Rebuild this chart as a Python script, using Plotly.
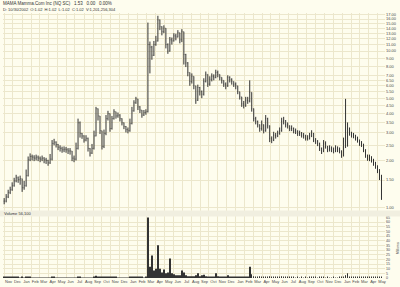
import plotly.graph_objects as go
import pandas as pd
import math

# Weekly closes (Nov 2002 .. May 2006)
closes = [1.10, 1.17, 1.25, 1.30, 1.38, 1.48, 1.55, 1.51, 1.53, 1.34,
          1.38, 1.60, 2.02, 2.12, 2.10, 2.07, 2.10, 2.07, 2.04, 2.07,
          2.02, 2.00, 1.93, 2.04, 2.57, 2.62, 2.53, 2.43, 2.39, 2.34,
          2.36, 2.34, 2.30, 2.30, 2.07, 2.04, 2.39, 3.48, 2.98, 2.87,
          2.70, 2.77, 2.39, 2.23, 2.39, 2.87, 4.28, 3.85, 3.10, 2.46,
          2.98, 3.70, 3.98, 3.20, 3.70, 4.10, 3.85, 3.90, 3.70, 3.48,
          3.30, 3.15, 3.10, 3.44, 4.15, 4.67, 4.95, 4.40, 4.20, 3.90,
          4.05, 4.10, 11.0, 10.6, 9.4, 11.0, 11.6, 15.8, 14.3, 13.3,
          14.0, 11.0, 10.0, 11.8, 11.6, 12.5, 12.3, 13.1, 11.8, 13.3,
          9.5, 8.4, 7.3, 6.4, 6.9, 6.0, 4.85, 5.85, 5.5, 5.3,
          6.4, 7.1, 6.15, 6.6, 6.9, 6.8, 7.3, 7.1, 6.8, 6.5,
          6.15, 6.0, 6.8, 6.6, 6.4, 6.15, 6.0, 5.5, 5.1, 4.6,
          4.5, 4.85, 4.8, 5.45, 4.28, 3.70, 3.55, 3.38, 3.20, 3.38,
          3.10, 3.70, 3.33, 2.77, 2.70, 2.90, 2.87, 2.98, 3.10, 3.55,
          3.60, 3.38, 3.33, 3.20, 3.20, 3.10, 3.06, 2.98, 2.98, 2.90,
          2.87, 2.77, 2.77, 2.87, 2.98, 2.70, 2.65, 2.57, 2.39, 2.30,
          2.57, 2.46, 2.34, 2.39, 2.34, 2.30, 2.39, 2.34, 2.30, 2.16,
          2.65, 2.50, 3.20, 2.98, 2.90, 2.87, 2.77, 2.70, 2.57, 2.53,
          2.34, 2.16, 2.07, 2.07, 2.02, 1.93, 1.85, 1.75, 1.60, 1.30]

highs = [1.15, 1.22, 1.30, 1.36, 1.45, 1.55, 1.62, 1.58, 1.60, 1.45,
         1.48, 1.75, 2.12, 2.22, 2.18, 2.16, 2.18, 2.15, 2.12, 2.15,
         2.10, 2.08, 2.02, 2.20, 2.70, 2.75, 2.65, 2.55, 2.50, 2.45,
         2.46, 2.44, 2.40, 2.40, 2.20, 2.15, 2.60, 3.70, 3.55, 3.00,
         2.90, 2.90, 2.80, 2.40, 2.55, 3.10, 4.40, 4.30, 3.85, 3.10,
         3.15, 3.90, 4.15, 4.00, 3.85, 4.25, 4.10, 4.05, 3.95, 3.72,
         3.50, 3.32, 3.25, 3.70, 4.40, 4.85, 5.10, 4.95, 4.45, 4.20,
         4.20, 4.25, 15.2, 11.5, 10.8, 11.6, 12.5, 16.8, 15.9, 14.4,
         14.6, 14.0, 11.2, 12.3, 12.2, 13.0, 12.9, 13.6, 13.1, 13.8,
         13.3, 9.6, 8.5, 7.3, 7.2, 6.9, 6.0, 6.1, 5.9, 5.6,
         6.7, 7.4, 7.1, 6.9, 7.2, 7.1, 7.6, 7.5, 7.1, 6.8,
         6.5, 6.3, 7.0, 6.9, 6.7, 6.4, 6.3, 6.0, 5.5, 5.1,
         4.8, 5.1, 5.1, 6.5, 5.45, 4.3, 3.8, 3.6, 3.4, 3.6,
         3.4, 3.9, 3.75, 3.35, 2.85, 3.05, 3.00, 3.10, 3.25, 3.75,
         3.80, 3.62, 3.50, 3.35, 3.35, 3.25, 3.20, 3.12, 3.10, 3.04,
         3.00, 2.92, 2.90, 3.00, 3.12, 3.00, 2.78, 2.70, 2.60, 2.42,
         2.70, 2.65, 2.48, 2.50, 2.46, 2.42, 2.50, 2.46, 2.42, 2.32,
         2.80, 4.95, 3.50, 3.25, 3.05, 3.00, 2.92, 2.84, 2.72, 2.66,
         2.56, 2.36, 2.18, 2.18, 2.13, 2.05, 1.96, 1.86, 1.76, 1.62]

lows = [1.05, 1.08, 1.15, 1.22, 1.28, 1.36, 1.45, 1.44, 1.40, 1.26,
        1.30, 1.36, 1.58, 1.98, 2.00, 1.98, 2.00, 1.98, 1.95, 1.98,
        1.92, 1.90, 1.85, 1.90, 2.00, 2.50, 2.42, 2.33, 2.28, 2.24,
        2.26, 2.24, 2.20, 2.18, 1.98, 1.95, 2.00, 2.35, 2.80, 2.75,
        2.60, 2.65, 2.28, 2.12, 2.20, 2.35, 2.85, 3.60, 2.95, 2.35,
        2.40, 2.90, 3.60, 3.05, 3.15, 3.65, 3.70, 3.75, 3.55, 3.35,
        3.17, 3.02, 2.98, 3.05, 3.40, 4.10, 4.60, 4.20, 4.02, 3.75,
        3.85, 3.92, 4.05, 7.2, 8.8, 9.3, 10.8, 11.5, 13.6, 12.6,
        13.0, 10.4, 9.6, 9.9, 11.0, 11.5, 11.7, 12.2, 11.2, 11.4,
        8.2, 7.9, 6.9, 6.0, 6.2, 5.7, 4.6, 4.8, 5.2, 5.0,
        5.2, 6.3, 5.9, 6.0, 6.4, 6.5, 6.7, 6.8, 6.5, 6.2,
        5.9, 5.7, 5.9, 6.3, 6.1, 5.9, 5.7, 5.3, 4.9, 4.4,
        4.3, 4.4, 4.6, 4.7, 4.1, 3.55, 3.4, 3.25, 3.05, 3.10,
        2.98, 3.05, 3.2, 2.62, 2.58, 2.66, 2.76, 2.82, 2.92, 3.05,
        3.40, 3.25, 3.20, 3.08, 3.08, 2.98, 2.95, 2.87, 2.87, 2.80,
        2.76, 2.68, 2.68, 2.72, 2.82, 2.62, 2.55, 2.47, 2.30, 2.20,
        2.26, 2.38, 2.26, 2.28, 2.26, 2.22, 2.26, 2.26, 2.22, 2.08,
        2.12, 2.40, 2.45, 2.88, 2.80, 2.77, 2.68, 2.60, 2.48, 2.44,
        2.26, 2.08, 1.99, 1.98, 1.94, 1.85, 1.77, 1.66, 1.50, 1.12]

volumes = [0.6, 0.8, 1.0, 1.0, 0.9, 0.8, 0.7, 0.6, 0.5, 0.6,
           0.5, 0.7, 0.9, 0.7, 0.5, 0.4, 0.4, 0.4, 0.3, 0.4,
           0.3, 0.3, 0.3, 0.4, 0.8, 0.6, 0.5, 0.4, 0.4, 0.3,
           0.3, 0.3, 0.3, 0.3, 0.4, 0.3, 0.5, 1.2, 0.8, 0.5,
           0.4, 0.4, 0.5, 0.4, 0.5, 0.8, 2.5, 1.2, 0.8, 0.7,
           0.6, 0.8, 0.9, 0.7, 0.6, 0.8, 0.6, 0.5, 0.5, 0.5,
           0.4, 0.4, 0.4, 0.6, 1.0, 1.0, 1.0, 0.8, 0.6, 0.6,
           0.5, 0.6, 65, 12, 24, 8, 10, 35, 10, 6,
           9, 5, 6, 21, 5, 4, 3, 3, 3, 8,
           6, 3, 2, 2, 2, 2, 3, 5, 2, 3,
           3.5, 2, 1.5, 1.5, 1.5, 1.5, 5, 2, 1.5, 1,
           1.5, 1, 3, 1.5, 1, 1, 1, 1, 1, 1.5,
           1, 1, 1.5, 12, 4, 2, 1.5, 1, 2, 1,
           1, 1, 1, 2, 1, 0.8, 0.8, 0.8, 0.8, 2,
           1, 0.7, 0.7, 0.6, 0.6, 0.6, 0.5, 0.6, 0.5, 0.6,
           0.5, 0.6, 0.5, 0.6, 0.7, 0.6, 0.6, 0.5, 0.8, 0.7,
           0.6, 0.5, 0.6, 0.5, 0.5, 0.6, 0.5, 0.5, 0.6, 0.7,
           0.8, 3, 5, 1.5, 1, 0.8, 0.7, 0.7, 0.6, 0.7,
           0.8, 0.9, 0.8, 0.7, 0.8, 0.9, 1.0, 1.0, 1.2, 1.5]

price_ticks = [1, 1.5, 2, 2.5, 3, 3.5, 4, 4.5, 5, 5.5, 6, 6.5, 7,
               8, 9, 10, 11, 12, 13, 14, 15, 16, 17]
vol_ticks = list(range(0, 70, 5))

title_line1 = "MAMA Mamma.Com Inc (NQ SC)   1.53   0.00   0.00%"
title_line2 = "D: 10/30/2002  O:1.02  H:1.02  L:1.02  C:1.02  V:1,201,256,304"
vol_header = "Volume 56,100"
vol_unit = "Millions"

dates = pd.date_range("2002-11-01", "2006-05-14", periods=len(closes))
opens = [closes[0]] + closes[:-1]
hi = [max(h, o, c) for h, o, c in zip(highs, opens, closes)]
lo = [min(l, o, c) for l, o, c in zip(lows, opens, closes)]

BG = "#FEFDEE"
GRID = "#ECE7CC"
INK = "#333333"
TXT = "#4a4a4a"
FONT = "Liberation Sans"

fig = go.Figure()
fig.add_trace(go.Ohlc(
    x=dates, open=opens, high=hi, low=lo, close=closes,
    increasing=dict(line=dict(color=INK, width=1)),
    decreasing=dict(line=dict(color=INK, width=1)),
    tickwidth=0.2, xaxis="x", yaxis="y", showlegend=False,
))
fig.add_trace(go.Bar(
    x=dates, y=volumes, marker=dict(color=INK, line=dict(width=0)),
    xaxis="x", yaxis="y2", showlegend=False,
))

H_PLOT = 287 - 13 - 7


def py(px):
    return (280 - px) / H_PLOT


fig.update_layout(
    width=400, height=287,
    margin=dict(l=3, r=15, t=13, b=7),
    paper_bgcolor=BG, plot_bgcolor=BG,
    bargap=0.72,
    font=dict(family=FONT, size=4, color=TXT),
    xaxis=dict(
        type="date", anchor="y2",
        range=["2002-10-28", "2006-05-26"],
        dtick="M1", tickformat="%b", ticklabelmode="period",
        tickangle=0,
        showgrid=True, gridcolor=GRID, gridwidth=1,
        zeroline=False, showline=False, ticks="",
        tickfont=dict(size=4, color=TXT, family=FONT),
        rangeslider=dict(visible=False),
    ),
    yaxis=dict(
        domain=[py(212), 1.0], anchor="x", side="right",
        type="log", range=[math.log10(0.958), math.log10(17.5)],
        tickvals=price_ticks, ticktext=["%.2f" % v for v in price_ticks],
        showgrid=True, gridcolor=GRID, gridwidth=1,
        zeroline=False, showline=False, ticks="",
        tickfont=dict(size=4, color=TXT, family=FONT),
    ),
    yaxis2=dict(
        domain=[0, py(218)], anchor="x", side="right",
        range=[0, 66],
        tickvals=vol_ticks, ticktext=[str(v) for v in vol_ticks],
        showgrid=True, gridcolor=GRID, gridwidth=1,
        zeroline=False, showline=False, ticks="",
        tickfont=dict(size=3.6, color=TXT, family=FONT),
    ),
    shapes=[
        dict(type="rect", xref="paper", yref="paper",
             x0=-0.01, x1=1.05, y0=py(218), y1=py(212),
             fillcolor="#F1EFE0", line=dict(width=0), layer="above"),
    ],
    annotations=[
        dict(text=title_line1, xref="paper", yref="paper", x=0, y=py(3),
             xanchor="left", yanchor="middle", xshift=-2, showarrow=False,
             font=dict(size=4.5, color="#333333", family=FONT)),
        dict(text=title_line2, xref="paper", yref="paper", x=0, y=py(9),
             xanchor="left", yanchor="middle", xshift=-2, showarrow=False,
             font=dict(size=4, color="#333333", family=FONT)),
        dict(text=vol_header, xref="paper", yref="paper", x=0, y=py(215),
             xanchor="left", yanchor="middle", xshift=-1, showarrow=False,
             font=dict(size=4, color="#333333", family=FONT)),
        dict(text=vol_unit, xref="paper", yref="paper", x=1, y=py(250),
             xanchor="center", yanchor="middle", xshift=13, textangle=-90,
             showarrow=False, font=dict(size=3.6, color="#444444", family=FONT)),
    ],
)

fig.write_html("out.html")
